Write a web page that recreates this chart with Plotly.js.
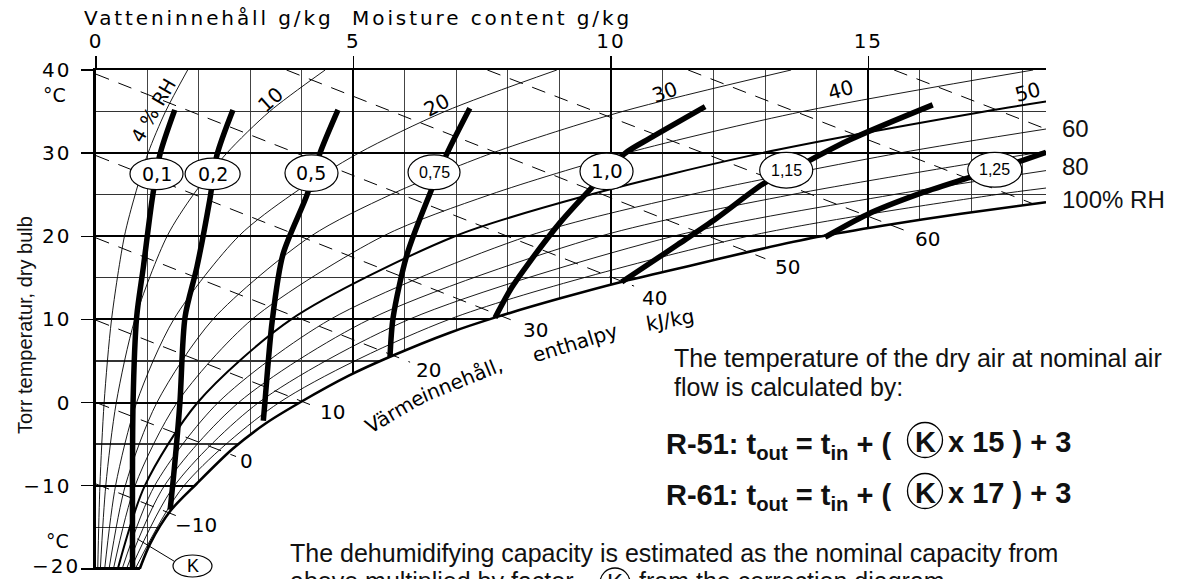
<!DOCTYPE html>
<html><head><meta charset="utf-8">
<script src="https://cdn.plot.ly/plotly-3.0.1.min.js"></script>
<style>html,body{margin:0;padding:0;background:#fff}#chart{width:1194px;height:579px}</style>
</head><body><div id="chart"></div>
<script>
// ---------- DATA (x = moisture content g/kg, T = dry bulb °C) ----------
const satX = [0.85, 1.05, 1.45, 1.95, 2.65, 3.3, 3.96, 4.9, 5.71, 6.87, 7.79, 9.0, 10.2, 11.5, 12.8, 14.0, 15.3, 16.8, 18.45];
const satT = [-20, -17, -13, -9.8, -5.6, -2.5, 0, 3.2, 5.5, 8.4, 10.3, 12.5, 14.5, 16.4, 18.3, 19.9, 21.3, 22.7, 24.1];

const rhT9 = [-20, -10, 0, 10, 20, 25, 30, 35, 40];
const rh04X = [0.034, 0.076, 0.158, 0.302, 0.552, 0.76, 1.01, 1.35, 1.78];
const rh10X = [0.085, 0.19, 0.394, 0.755, 1.38, 1.89, 2.54, 3.37, 4.45];
const rh20X = [0.169, 0.38, 0.789, 1.51, 2.77, 3.80, 5.10, 6.77, 8.95];
const rh30X = [0.254, 0.569, 1.183, 2.27, 4.17, 5.72, 7.69, 10.22, 13.5];
const rh40X = [0.339, 0.759, 1.575, 3.03, 5.57, 7.65, 10.30, 13.72, 18.2];
const rh50T = [-20, -10, 0, 10, 20, 25, 30, 35, 36.2];
const rh50X = [0.424, 0.949, 1.974, 3.79, 6.97, 9.59, 12.93, 17.26, 18.45];
const rh60T = [-20, -10, 0, 10, 20, 25, 30, 32.9];
const rh60X = [0.508, 1.139, 2.373, 4.55, 8.38, 11.54, 15.59, 18.45];
const rh70T = [-20, -10, 0, 10, 20, 25, 30, 30.2];
const rh70X = [0.593, 1.33, 2.77, 5.31, 9.79, 13.50, 18.23, 18.45];
const rh80T = [-20, -10, 0, 10, 20, 25, 27.9];
const rh80X = [0.678, 1.523, 3.16, 6.08, 11.21, 15.48, 18.45];
const rh90T = [-20, -10, 0, 10, 20, 25, 25.8];
const rh90X = [0.763, 1.71, 3.56, 6.86, 12.66, 17.47, 18.45];

// enthalpy lines kJ/kg: start and end points
const hVals = [-10, 0, 10, 20, 30, 40, 50, 60, 70, 80];
const hX0 = [0, 0, 0, 0, 0, 0, 3.7, 7.6, 11.5, 15.5];
const hT0 = [-9.8, 0, 9.9, 19.8, 29.7, 39.5, 40, 40, 40, 40];
const hX1 = [1.55, 2.72, 4.3, 6.1, 8.2, 10.45, 13.0, 15.75, 18.2, 18.45];
const hT1 = [-13.6, -6.5, -0.6, 4.85, 9.6, 14.0, 17.3, 20.6, 23.9, 32.9];
const hLabels = ['−10', '0', '10', '20', '30', '40', '50', '60'];

// correction factor K curves
const kNames = ['0,1', '0,2', '0,5', '0,75', '1,0', '1,15', '1,25'];
const k010X = [1.53, 1.24, 1.09, 0.92, 0.79, 0.72, 0.71];
const k010T = [35.2, 29.8, 24.4, 16.3, 10.3, 0, -20];
const k020X = [2.66, 2.35, 2.21, 1.96, 1.73, 1.63, 1.52, 1.44];
const k020T = [35.2, 29.8, 24.4, 16.3, 10.3, 0, -8, -12.9];
const k050X = [4.70, 4.35, 4.10, 3.63, 3.42, 3.28, 3.25];
const k050T = [35.2, 30.0, 25.0, 17.8, 9.7, 0, -2.2];
const k075X = [7.26, 6.82, 6.49, 6.04, 5.77, 5.71];
const k075T = [35.4, 30.0, 25.2, 17.8, 10.2, 5.5];
const k100X = [11.83, 10.76, 10.28, 9.62, 9.02, 8.42, 8.07, 7.75];
const k100T = [35.6, 31.8, 30.0, 25.8, 21.7, 16.9, 13.8, 10.2];
const k115X = [16.25, 14.64, 13.42, 12.98, 12.06, 11.30, 10.72, 10.21];
const k115T = [35.8, 31.6, 27.7, 26.4, 22.2, 19.0, 16.6, 14.5];
const k125X = [18.45, 17.46, 16.83, 15.94, 14.97, 14.16];
const k125T = [30.1, 28.0, 26.8, 25.0, 22.6, 19.9];

const xTicks = [0, 5, 10, 15];
const yTicks = [-20, -10, 0, 10, 20, 30, 40];
const yTickText = ['', '−10', '0', '10', '20', '30', '40'];

// ---------- LAYOUT HELPERS ----------
const L = 96, W = 950, B = 570, H = 500;
const px = p => (p - L) / W;
const py = p => (B - p) / H;
const WIDE = 'DejaVu Sans';
const ARIAL = 'Liberation Sans, Arial, sans-serif';

const traces = [];
function line(x, y, width, extra) {
  traces.push(Object.assign({x: x, y: y, mode: 'lines', hoverinfo: 'skip',
    line: Object.assign({color: '#000', width: width, shape: 'spline', smoothing: 0.8}, extra || {})}));
}
// white area below saturation curve (hides grid)
traces.push({x: [satX[0], satX[satX.length - 1]], y: [-21, -21], mode: 'lines', line: {width: 0}, hoverinfo: 'skip'});
traces.push({x: satX, y: satT, mode: 'lines', line: {width: 0, shape: 'spline', smoothing: 0.8}, fill: 'tonexty', fillcolor: '#fff', hoverinfo: 'skip'});

[[rh04X, rhT9], [rh10X, rhT9], [rh20X, rhT9], [rh30X, rhT9], [rh40X, rhT9],
 [rh60X, rh60T], [rh70X, rh70T], [rh80X, rh80T], [rh90X, rh90T]].forEach(p => line(p[0], p[1], 0.9));
line(rh50X, rh50T, 2);

hVals.forEach((h, i) => line([hX0[i], hX1[i]], [hT0[i], hT1[i]], 1, {dash: '14px,10px', shape: 'linear'}));

line(satX, satT, 2.6);
line([0, satX[0]], [-20, -20], 3.5, {shape: 'linear'});

[[k010X, k010T], [k020X, k020T], [k050X, k050T], [k075X, k075T], [k100X, k100T], [k115X, k115T], [k125X, k125T]]
  .forEach(p => line(p[0], p[1], 5.5));

// ---------- shapes: label ellipses ----------
const kCircles = [
  [0.66, 1.69, 25.6, 29.4, 19], [1.73, 2.80, 25.6, 29.4, 19], [3.67, 4.70, 25.4, 29.8, 19],
  [6.06, 7.07, 25.6, 29.8, 16], [9.40, 10.43, 25.6, 30.0, 20], [12.89, 13.92, 25.8, 30.1, 16], [16.93, 17.98, 25.9, 30.1, 16]];
const shapes = [];
const annotations = [];
kCircles.forEach((c, i) => {
  shapes.push({type: 'circle', xref: 'x', yref: 'y', x0: c[0], x1: c[1], y0: c[2], y1: c[3],
    fillcolor: '#fff', line: {color: '#000', width: 1.2}, layer: 'above'});
  annotations.push({xref: 'x', yref: 'y', x: (c[0] + c[1]) / 2, y: (c[2] + c[3]) / 2, text: kNames[i], showarrow: false,
    xanchor: 'center', yanchor: 'middle',
    font: {family: c[4] >= 18 ? WIDE : ARIAL, size: c[4], color: '#000'}});
});
// K marker bottom-left
shapes.push({type: 'line', xref: 'x', yref: 'y', x0: 0.80, y0: -16.4, x1: 1.52, y1: -19.1, line: {color: '#000', width: 1}});
shapes.push({type: 'circle', xref: 'paper', yref: 'paper', x0: px(173), x1: px(212), y0: py(577), y1: py(555),
  fillcolor: '#fff', line: {color: '#000', width: 1.2}});
annotations.push({xref: 'paper', yref: 'paper', x: px(192.5), y: py(566), text: 'K', showarrow: false,
  xanchor: 'center', yanchor: 'middle', font: {family: ARIAL, size: 18, color: '#000'}});

function circleK(cx, cy, r) {
  shapes.push({type: 'circle', xref: 'paper', yref: 'paper', x0: px(cx - r), x1: px(cx + r), y0: py(cy + r), y1: py(cy - r),
    line: {color: '#000', width: 1.3}});
}

// ---------- annotations ----------
function txt(xp, yp, text, font, opts) {
  annotations.push(Object.assign({xref: 'paper', yref: 'paper', x: px(xp), y: py(yp), text: text, showarrow: false,
    xanchor: 'left', yanchor: 'middle', font: font}, opts || {}));
}
function dtxt(x, y, text, size, angle) {
  annotations.push({xref: 'x', yref: 'y', x: x, y: y, text: text, showarrow: false, textangle: angle || 0,
    xanchor: 'center', yanchor: 'middle', font: {family: WIDE, size: size, color: '#000'}});
}
const wf = s => ({family: WIDE, size: s, color: '#000'});
const af = s => ({family: ARIAL, size: s, color: '#111'});
const bf = s => ({family: ARIAL, size: s, color: '#111', weight: 'bold'});

txt(358, 18, 'Vatteninnehåll g/kg\u00a0\u00a0Moisture content g/kg', wf(20), {xanchor: 'center'});
txt(54, 95, '°C', wf(19), {xanchor: 'center'});
txt(57, 541, '°C', wf(19), {xanchor: 'center'});
txt(79, 566, '−20', wf(20), {xanchor: 'right'});
txt(25, 325, 'Torr temperatur, dry bulb', af(20), {xanchor: 'center', textangle: -90});

// RH labels
dtxt(1.11, 35.2, '4 % RH', 19, -60);
dtxt(3.38, 36.4, '10', 20, -42);
dtxt(6.62, 35.8, '20', 20, -28);
dtxt(11.05, 37.35, '30', 20, -20);
dtxt(14.45, 37.6, '40', 20, -15);
dtxt(18.1, 37.35, '50', 20, -15);
txt(1060, 128, '60', af(24));
txt(1060, 167, '80', af(24));
txt(1060, 199, '100% RH', af(24));

// enthalpy labels
const hLabPos = [[1.94, -14.7], [2.93, -7.0], [4.6, -1.1], [6.45, 3.93], [8.54, 8.74], [10.85, 12.6], [13.42, 16.3], [16.14, 19.7]];
hLabels.forEach((t, i) => dtxt(hLabPos[i][0], hLabPos[i][1], t, 20, 0));
dtxt(5.8, -1.2, 'Värme', 20, -30);
dtxt(7.1, 2.7, 'innehåll,', 20, -22);
dtxt(9.3, 7.2, 'enthalpy', 20, -17);
dtxt(11.15, 9.94, 'kJ/kg', 20, -10);

// text block
txt(672, 358, 'The temperature of the dry air at nominal air', af(25));
txt(672, 387, 'flow is calculated by:', af(25));
[[442, '15', 'R-51'], [493, '17', 'R-61']].forEach(r => {
  txt(894, r[0] + 4, '<b>' + r[2] + ': t<sub>out</sub> = t<sub>in</sub> + (</b>', bf(29), {xanchor: 'right'});
  txt(925, r[0], '<b>K</b>', bf(29), {xanchor: 'center'});
  txt(946, r[0], '<b>x ' + r[1] + ' ) + 3</b>', bf(29));
  circleK(925, r[0] - 2, 17.5);
});
txt(288, 553, 'The dehumidifying capacity is estimated as the nominal capacity from', af(25));
txt(288, 581, 'above multiplied by factor', af(25));
txt(615, 582, 'K', af(24), {xanchor: 'center'});
circleK(615, 583, 15);
txt(637, 581, 'from the correction diagram.', af(25));

const layout = {
  width: 1194, height: 579, margin: {l: L, r: 1194 - L - W, t: 70, b: 579 - B},
  paper_bgcolor: '#fff', plot_bgcolor: '#fff', showlegend: false,
  xaxis: {range: [0, 18.45], side: 'top', showline: true, linewidth: 2, linecolor: '#000', mirror: false,
    ticks: 'outside', ticklen: 12, tickwidth: 1.5, tickcolor: '#000', tickmode: 'array', tickvals: xTicks,
    ticktext: xTicks.map(String), tickfont: wf(20), showgrid: true, gridcolor: '#000', gridwidth: 2,
    zeroline: false, automargin: false, fixedrange: true, ticklabeloverflow: 'allow',
    minor: {tickmode: 'array', tickvals: [1, 2, 3, 4, 6, 7, 8, 9, 11, 12, 13, 14, 16, 17, 18], showgrid: true,
      gridcolor: '#444', gridwidth: 1, ticks: ''}},
  yaxis: {range: [-20.15, 40], showline: true, linewidth: 3.5, linecolor: '#000',
    ticks: 'outside', ticklen: 12, tickwidth: 1.5, tickcolor: '#000', tickmode: 'array', tickvals: yTicks,
    ticktext: yTickText, tickfont: wf(20), ticklabelstandoff: 5, ticklabeloverflow: 'allow',
    showgrid: true, gridcolor: '#000', gridwidth: 2,
    zeroline: false, automargin: false, fixedrange: true,
    minor: {tickmode: 'array', tickvals: [-15, -5, 5, 15, 25, 35], showgrid: true, gridcolor: '#333', gridwidth: 1.2, ticks: ''}},
  shapes: shapes, annotations: annotations
};
Plotly.newPlot('chart', traces, layout, {displayModeBar: false, staticPlot: true}).then(gd => {
  // the printed chart uses a widely spaced lettering for its headings and numbers
  gd.querySelectorAll('text.annotation-text').forEach(t => {
    if (t.textContent.indexOf('Vatteninnehåll') === 0) t.style.letterSpacing = '2.9px';
    if (t.textContent === '−20') t.style.letterSpacing = '2px';
  });
  gd.querySelectorAll('.xtick text, .ytick text').forEach(t => { t.style.letterSpacing = '2px'; });
});
</script></body></html>
